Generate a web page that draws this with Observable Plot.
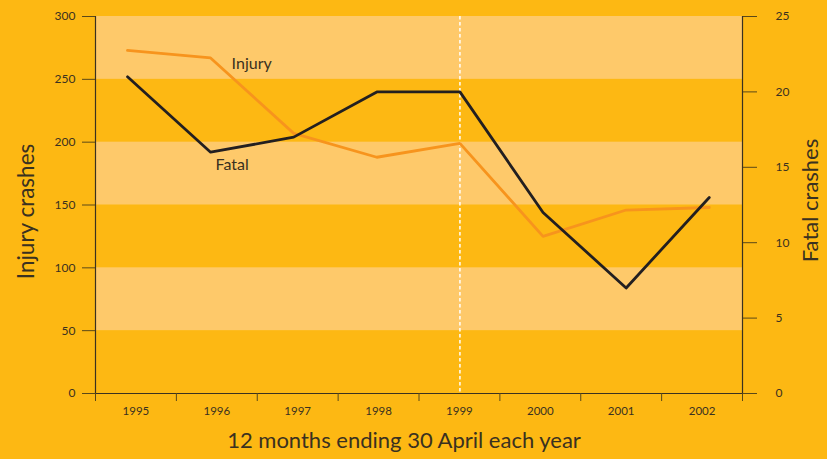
<!DOCTYPE html>
<html><head><meta charset="utf-8">
<script src="https://cdn.jsdelivr.net/npm/d3@7"></script>
<script src="https://cdn.jsdelivr.net/npm/@observablehq/plot@0.6"></script>
<style>
html,body{margin:0;padding:0;background:#FDB813;overflow:hidden;}
#chart{width:827px;height:459px;}
</style></head><body><div id="chart"></div>
<script>
// ---- data ----
const years = [1995, 1996, 1997, 1998, 1999, 2000, 2001, 2002];
const injury = [273, 267, 207, 188, 199, 125, 146, 148];
const fatal = [21, 16, 17, 20, 20, 12, 7, 13];
const injuryTicks = [0, 50, 100, 150, 200, 250, 300];
const fatalTicks = [0, 5, 10, 15, 20, 25];
const lightBandStarts = [50, 150, 250];
const bandHeight = 50;
const dividerYear = 1999;
const labelYear = 1996;
const xTitle = "12 months ending 30 April each year";
const yLeftTitle = "Injury crashes";
const yRightTitle = "Fatal crashes";

// ---- derived ----
const k = d3.max(injuryTicks) / d3.max(fatalTicks); // fatal -> left scale
const xd0 = 1994.615, xd1 = 2002.40;
const nb = years.length;
const step = (xd1 - xd0) / nb;
const boundaries = d3.range(nb + 1).map(i => xd0 + i * step);
const centers = years.map((y, i) => xd0 + (i + 0.5) * step);
const injData = years.map((y, i) => ({year: y, v: injury[i]}));
const fatData = years.map((y, i) => ({year: y, v: fatal[i] * k}));

const ink = "#3a3120";
const tickInk = "#5a4818";
const font = "Lato, 'Liberation Sans', sans-serif";

const chart = Plot.plot({
  width: 827, height: 459,
  marginLeft: 95, marginRight: 85, marginTop: 16, marginBottom: 66,
  style: {background: "transparent", fontFamily: font, fontSize: "12px", color: ink},
  x: {type: "linear", domain: [xd0, xd1]},
  y: {domain: [0, d3.max(injuryTicks)]},
  marks: [
    Plot.rect(lightBandStarts, {x1: () => xd0, x2: () => xd1, y1: d => d, y2: d => d + bandHeight, fill: "#FEC96A"}),
    Plot.ruleX([dividerYear], {stroke: "#ffffff", strokeWidth: 1.5, strokeDasharray: "3.5,2.5"}),
    Plot.line(injData, {x: "year", y: "v", stroke: "#F7941D", strokeWidth: 2.8}),
    Plot.line(fatData, {x: "year", y: "v", stroke: "#231F20", strokeWidth: 2.8}),
    Plot.text(injData.filter(d => d.year === labelYear), {x: "year", y: "v", text: () => "Injury", textAnchor: "start", dx: 21, dy: 6, fontSize: 16, fill: ink}),
    Plot.text(fatData.filter(d => d.year === labelYear), {x: "year", y: "v", text: () => "Fatal", textAnchor: "start", dx: 5, dy: 13, fontSize: 16, fill: ink}),
    // axes lines
    Plot.ruleX([xd0, xd1], {stroke: ink, strokeWidth: 1.2}),
    Plot.ruleY([0], {stroke: ink, strokeWidth: 1.2}),
    Plot.axisY({anchor: "left", ticks: injuryTicks, tickSize: 13, tickPadding: 7, label: null, fontSize: 12, stroke: tickInk, fill: ink}),
    Plot.axisY({anchor: "right", ticks: fatalTicks.map(v => v * k), tickFormat: d => d / k, tickSize: 14, tickPadding: 19, label: null, fontSize: 12, stroke: tickInk, fill: ink}),
    Plot.axisX({ticks: boundaries, tickSize: 8, tickFormat: () => "", label: null, stroke: tickInk}),
    Plot.text(years, {x: (d, i) => centers[i], y: () => 0, text: d => String(d), dy: 18, fontSize: 11.5, fill: ink}),
    // titles
    Plot.text([xTitle], {frameAnchor: "bottom", textAnchor: "middle", dx: -15, dy: 54, fontSize: 22, fill: ink}),
    Plot.text([yLeftTitle], {frameAnchor: "left", textAnchor: "middle", rotate: -90, dx: -69, dy: 6.5, fontSize: 22.5, fill: ink}),
    Plot.text([yRightTitle], {frameAnchor: "right", textAnchor: "middle", rotate: -90, dx: 68, dy: -4.5, fontSize: 22, fill: ink})
  ]
});
document.getElementById("chart").appendChild(chart);
</script>
</body></html>
